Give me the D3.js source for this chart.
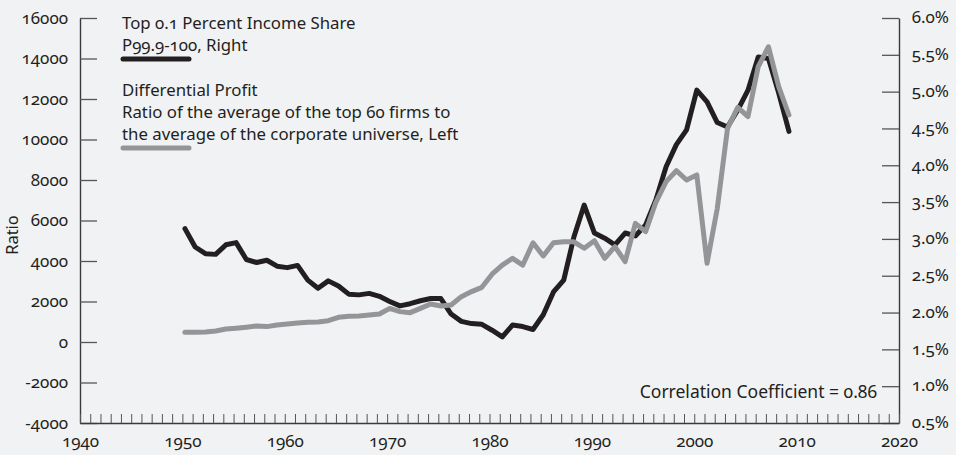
<!DOCTYPE html>
<html>
<head>
<meta charset="utf-8">
<script src="https://cdn.jsdelivr.net/npm/d3@7"></script>
<style>
	body { margin: 0; background: #f1f2f4; }
	svg text { font-family: "Noto Sans", sans-serif; font-variant-numeric: oldstyle-nums; fill: #231f20; }
</style>
</head>
<body>
<script>
// years 1950 - 2009
const years = d3.range(1950, 2010);

// top 0.1 percent income share, % (right axis)
const incomeShare = [
	3.14, 2.89, 2.80, 2.79, 2.92, 2.95, 2.72, 2.68, 2.71, 2.63,
	2.61, 2.64, 2.44, 2.33, 2.43, 2.36, 2.25, 2.24, 2.26, 2.22,
	2.15, 2.09, 2.12, 2.16, 2.19, 2.19, 1.98, 1.88, 1.85, 1.84,
	1.76, 1.67, 1.83, 1.81, 1.77, 1.97, 2.28, 2.44, 3.03, 3.46,
	3.08, 3.01, 2.92, 3.08, 3.04, 3.19, 3.53, 3.98, 4.28, 4.48,
	5.02, 4.86, 4.58, 4.52, 4.75, 5.02, 5.47, 5.45, 4.98, 4.46
];

// differential profit ratio (left axis)
const diffProfit = [
	480, 480, 495, 545, 640, 680, 730, 790, 760, 840,
	890, 940, 970, 990, 1050, 1220, 1270, 1285, 1335, 1385,
	1660, 1500, 1450, 1660, 1880, 1780, 1830, 2240, 2490, 2700,
	3350, 3800, 4130, 3800, 4900, 4250, 4900, 4950, 4950, 4630,
	5000, 4130, 4710, 3970, 5860, 5450, 6900, 7920, 8460, 8000,
	8250, 3890, 6600, 10550, 11590, 11130, 13600, 14580, 12610, 11210
];

const leftTicks = [-4000, -2000, 0, 2000, 4000, 6000, 8000, 10000, 12000, 14000, 16000];
const rightTicks = [0.5, 1.0, 1.5, 2.0, 2.5, 3.0, 3.5, 4.0, 4.5, 5.0, 5.5, 6.0];
const yearLabels = [1940, 1950, 1960, 1970, 1980, 1990, 2000, 2010, 2020];

const width = 956, height = 455;
const plotLeft = 80, plotRight = 899, plotTop = 18, plotBottom = 423;
const ink = "#231f20", grey = "#939598";

const svg = d3.select("body").append("svg")
	.attr("width", width)
	.attr("height", height)

const x = d3.scaleLinear().domain([1940, 2020]).range([plotLeft, plotRight]);
const yL = d3.scaleLinear().domain([-4000, 16000]).range([plotBottom, plotTop]);
const yR = d3.scaleLinear().domain([0.5, 6.0]).range([plotBottom, plotTop]);

// left axis, ticks pointing inward
svg.append("g")
	.attr("transform", `translate(${plotLeft},0)`)
	.call(d3.axisLeft(yL).tickValues(leftTicks).tickSize(-17).tickSizeOuter(0).tickPadding(12).tickFormat(d => String(d)))
	.call(g => g.select(".domain").attr("stroke", "#3a3a3a").attr("stroke-width", 1.4))
	.call(g => g.selectAll(".tick line").attr("stroke", "#555").attr("stroke-width", 1.3))
	.call(g => g.selectAll("text").style("font-size", "17px"))

// right axis
svg.append("g")
	.attr("transform", `translate(${plotRight},0)`)
	.call(d3.axisRight(yR).tickValues(rightTicks).tickSize(-17).tickSizeOuter(0).tickFormat(d => d.toFixed(1) + "%"))
	.call(g => g.select(".domain").attr("stroke", "#3a3a3a").attr("stroke-width", 1.4))
	.call(g => g.selectAll(".tick line").attr("stroke", "#555").attr("stroke-width", 1.3))
	.call(g => g.selectAll("text").style("font-size", "17px").attr("text-anchor", "end").attr("x", 50).attr("dy", "0.28em"))

// bottom axis, one small tick per year
svg.append("g")
	.attr("transform", `translate(0,${plotBottom})`)
	.call(d3.axisBottom(x).tickValues(d3.range(1940, 2021)).tickSize(-9).tickSizeOuter(0).tickPadding(12)
		.tickFormat(d => yearLabels.includes(d) ? d : ""))
	.call(g => g.select(".domain").attr("stroke", "#3a3a3a").attr("stroke-width", 1.4))
	.call(g => g.selectAll(".tick line").attr("stroke", "#555").attr("stroke-width", 1))
	.call(g => g.selectAll("text").style("font-size", "17px"))

svg.append("text")
	.attr("transform", "translate(18,235) rotate(-90)")
	.attr("text-anchor", "middle")
	.style("font-size", "16.5px")
	.text("Ratio")

// the lines (plotted mid-year)
const rows = years.map((yr, i) => ({year: yr, share: incomeShare[i], profit: diffProfit[i]}));

const shareLine = d3.line().x(d => x(d.year + 0.25)).y(d => yR(d.share));
const profitLine = d3.line().x(d => x(d.year + 0.25)).y(d => yL(d.profit));

svg.append("path")
	.datum(rows)
	.attr("d", shareLine)
	.attr("fill", "none")
	.attr("stroke", ink)
	.attr("stroke-width", 5)
	.attr("stroke-linejoin", "round")
	.attr("stroke-linecap", "round")

svg.append("path")
	.datum(rows)
	.attr("d", profitLine)
	.attr("fill", "none")
	.attr("stroke", grey)
	.attr("stroke-width", 5)
	.attr("stroke-linejoin", "round")
	.attr("stroke-linecap", "round")

// legend
const legend = svg.append("g").style("font-size", "16.8px")
legend.append("text").attr("x", 122).attr("y", 29).text("Top 0.1 Percent Income Share")
legend.append("text").attr("x", 122).attr("y", 51).text("P99.9-100, Right")
legend.append("line").attr("x1", 123).attr("x2", 189).attr("y1", 59).attr("y2", 59)
	.attr("stroke", ink).attr("stroke-width", 5).attr("stroke-linecap", "round")
legend.append("text").attr("x", 122).attr("y", 96).text("Differential Profit")
legend.append("text").attr("x", 122).attr("y", 118).text("Ratio of the average of the top 60 firms to")
legend.append("text").attr("x", 122).attr("y", 140).text("the average of the corporate universe, Left")
legend.append("line").attr("x1", 123).attr("x2", 189).attr("y1", 148).attr("y2", 148)
	.attr("stroke", grey).attr("stroke-width", 5).attr("stroke-linecap", "round")

svg.append("text")
	.attr("x", 877).attr("y", 398)
	.attr("text-anchor", "end")
	.style("font-size", "17.5px")
	.text("Correlation Coefficient = 0.86")
</script>
</body>
</html>
